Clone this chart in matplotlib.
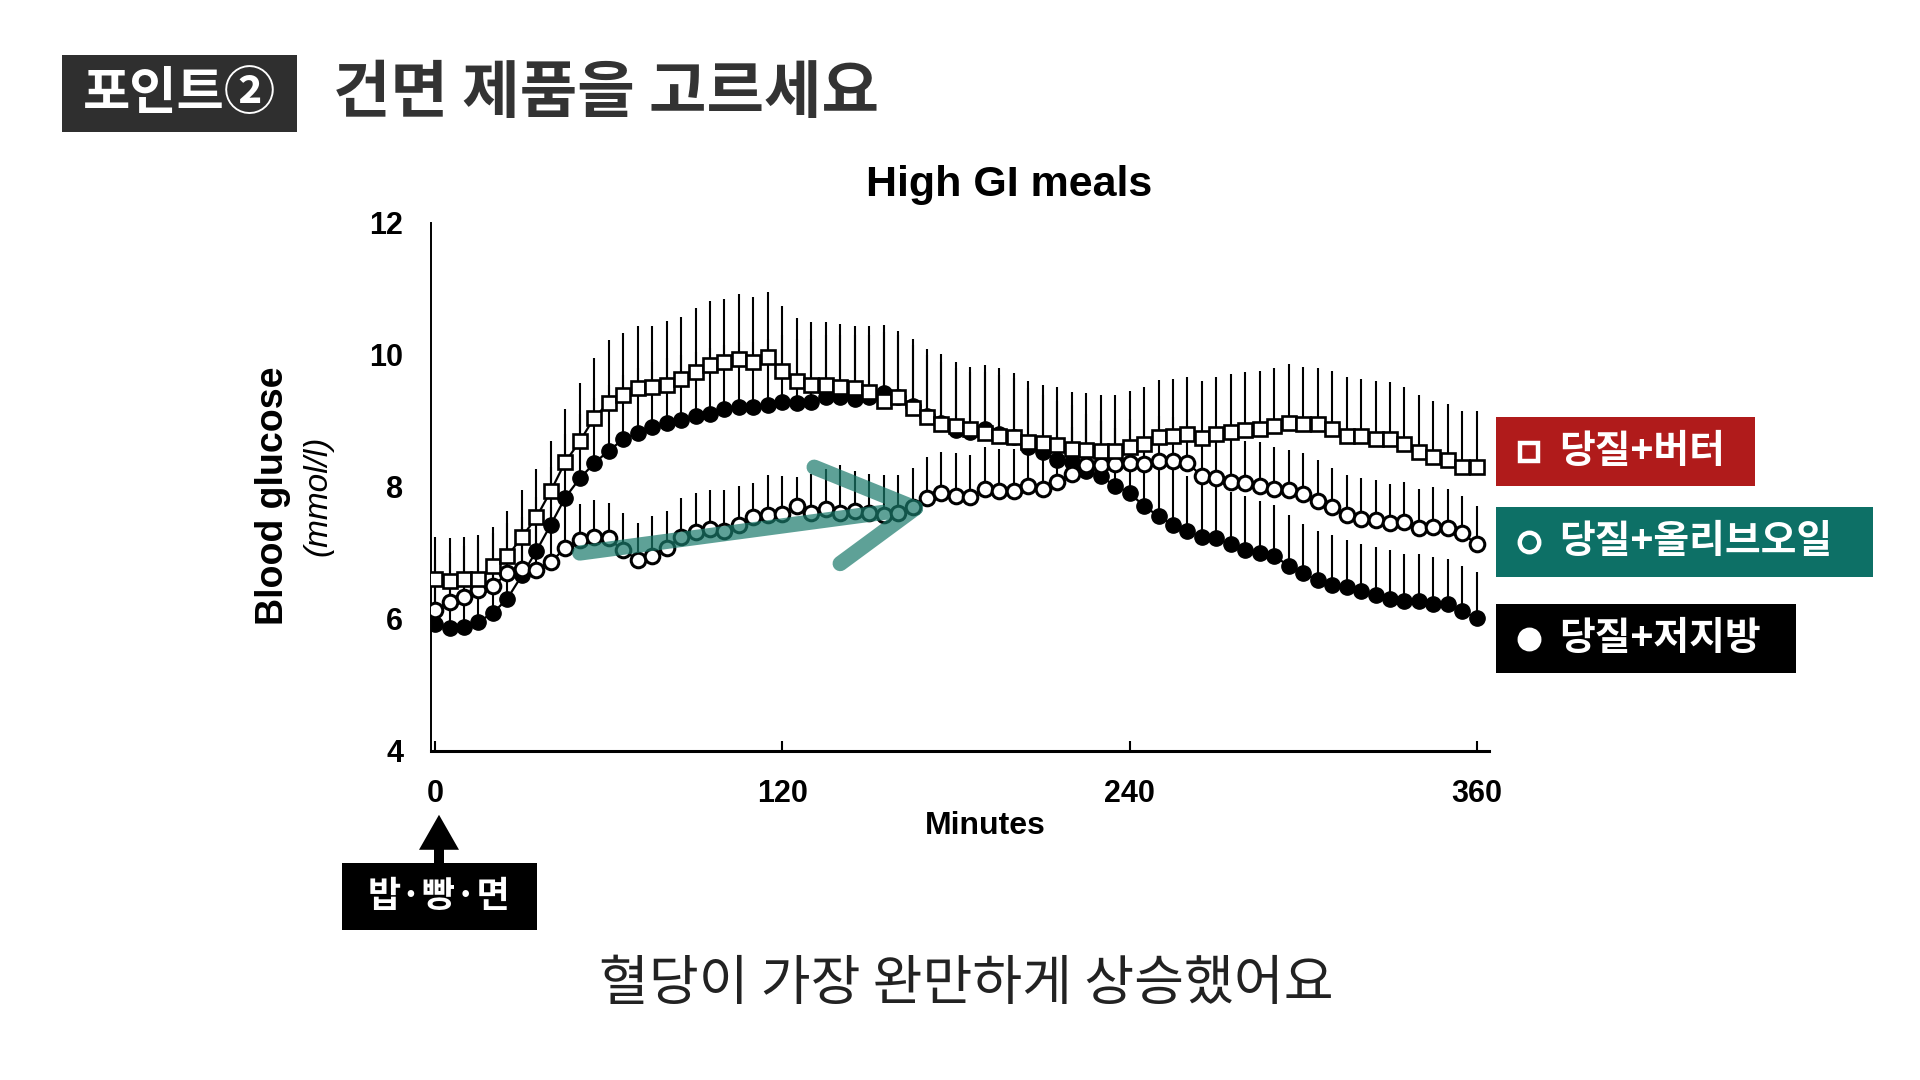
import matplotlib
matplotlib.use('Agg')
import matplotlib.pyplot as plt
from matplotlib.patches import Rectangle
from matplotlib.lines import Line2D
import numpy as np

# ---------------- data ----------------
minutes = [0, 5, 10, 15, 20, 25, 30, 35, 40, 45, 50, 55, 60, 65, 70, 75, 80, 85, 90, 95,
           100, 105, 110, 115, 120, 125, 130, 135, 140, 145, 150, 155, 160, 165, 170, 175,
           180, 185, 190, 195, 200, 205, 210, 215, 220, 225, 230, 235, 240, 245, 250, 255,
           260, 265, 270, 275, 280, 285, 290, 295, 300, 305, 310, 315, 320, 325, 330, 335,
           340, 345, 350, 355, 360]

# sugar + butter (open squares)
butter = [6.60, 6.58, 6.60, 6.60, 6.81, 6.95, 7.24, 7.54, 7.94, 8.38, 8.69, 9.05, 9.28, 9.39,
          9.50, 9.52, 9.55, 9.64, 9.75, 9.85, 9.89, 9.94, 9.90, 9.97, 9.76,
          9.60, 9.54, 9.54, 9.52, 9.50, 9.44, 9.31, 9.36, 9.20, 9.06, 8.96, 8.92, 8.88, 8.82,
          8.77, 8.76, 8.68, 8.66, 8.63, 8.58, 8.56, 8.55, 8.54,
          8.61, 8.65, 8.76, 8.77, 8.81, 8.74, 8.80, 8.83, 8.87, 8.88, 8.92, 8.97, 8.96, 8.95,
          8.88, 8.78, 8.77, 8.73, 8.72, 8.65, 8.53, 8.45, 8.41, 8.31, 8.31]
butter_top = [7.25, 7.22, 7.25, 7.27, 7.40, 7.64, 7.95, 8.28, 8.70, 9.18, 9.57, 9.96, 10.22, 10.33,
              10.44, 10.44, 10.51, 10.58, 10.71, 10.82, 10.85, 10.92, 10.88, 10.96, 10.75,
              10.56, 10.50, 10.50, 10.47, 10.44, 10.44, 10.46, 10.37, 10.24, 10.09, 10.01, 9.89,
              9.82, 9.85, 9.80, 9.72, 9.61, 9.55, 9.52, 9.44, 9.42, 9.40, 9.39,
              9.45, 9.51, 9.62, 9.64, 9.66, 9.61, 9.66, 9.71, 9.74, 9.76, 9.80, 9.86, 9.82, 9.81,
              9.76, 9.66, 9.64, 9.61, 9.59, 9.52, 9.39, 9.31, 9.26, 9.15, 9.15]

# sugar + olive oil (open circles)
olive = [6.14, 6.26, 6.34, 6.44, 6.50, 6.69, 6.76, 6.74, 6.86, 7.08, 7.19, 7.25, 7.22, 7.04,
         6.90, 6.96, 7.08, 7.24, 7.32, 7.37, 7.34, 7.43, 7.54, 7.57, 7.59,
         7.71, 7.61, 7.67, 7.61, 7.64, 7.60, 7.57, 7.60, 7.70, 7.84, 7.91, 7.87, 7.85, 7.97,
         7.94, 7.94, 8.01, 7.97, 8.07, 8.20, 8.33, 8.34, 8.35,
         8.37, 8.35, 8.40, 8.40, 8.36, 8.17, 8.13, 8.07, 8.06, 8.01, 7.97, 7.95, 7.89, 7.79,
         7.69, 7.57, 7.52, 7.50, 7.45, 7.47, 7.38, 7.39, 7.38, 7.30, 7.13]
olive_top = [6.90, 7.00, 7.10, 7.20, 7.30, 7.45, 7.55, 7.60, 7.70, 7.85,
             7.74, 7.80, 7.76, 7.60, 7.45, 7.56, 7.64, 7.84, 7.91, 7.95, 7.95, 8.01, 8.06, 8.18, 8.16,
             8.15, 8.20, 8.28, 8.33, 8.25, 8.20, 8.18, 8.18, 8.29, 8.45, 8.53, 8.51, 8.48, 8.60,
             8.58, 8.58, 8.70, 8.68, 8.78, 8.91, 9.01, 9.02, 9.02,
             9.03, 9.02, 9.07, 9.06, 9.02, 8.83, 8.78, 8.73, 8.70, 8.68, 8.60, 8.56, 8.51, 8.41,
             8.29, 8.18, 8.13, 8.10, 8.05, 8.07, 7.97, 8.00, 7.97, 7.87, 7.71]

# sugar + low fat (filled circles)
lowfat = [5.92, 5.86, 5.88, 5.96, 6.09, 6.31, 6.66, 7.03, 7.43, 7.84, 8.13, 8.36, 8.55, 8.72,
          8.82, 8.91, 8.97, 9.02, 9.07, 9.11, 9.18, 9.21, 9.21, 9.25, 9.29,
          9.27, 9.29, 9.36, 9.36, 9.34, 9.36, 9.42, 9.36, 9.23, 9.08, 8.97, 8.86, 8.83, 8.88,
          8.81, 8.76, 8.61, 8.53, 8.41, 8.38, 8.24, 8.16, 8.02,
          7.91, 7.71, 7.56, 7.43, 7.33, 7.24, 7.22, 7.13, 7.05, 7.00, 6.95, 6.81, 6.69, 6.59,
          6.51, 6.48, 6.43, 6.36, 6.31, 6.28, 6.28, 6.22, 6.22, 6.12, 6.01]
lowfat_top = [6.50, 6.45, 6.50, 6.60, 6.75, 7.00, 7.40, 7.85, 8.30, 8.80, 9.10, 9.35, 9.55, 9.70,
              9.80, 9.90, 9.95, 10.00, 10.05, 10.10, 10.15, 10.20, 10.20, 10.25, 10.30,
              10.25, 10.25, 10.30, 10.30, 10.30, 10.30, 10.35, 10.30, 10.15, 10.00, 9.90, 9.80,
              9.75, 9.75, 9.70, 9.65, 9.50, 9.40, 9.30, 9.25, 9.10, 9.00, 8.90, 8.75, 8.55, 8.40,
              8.30, 8.17, 8.12, 8.00, 7.92, 7.86, 7.79, 7.72, 7.58, 7.44, 7.33, 7.27, 7.20, 7.14,
              7.09, 7.05, 6.99, 6.99, 6.94, 6.91, 6.81, 6.71]

# hand-drawn green arrow (minutes, mmol/l)
arrow_x = [50, 166, np.nan, 131, 166, np.nan, 140, 166]
arrow_y = [7.00, 7.68, np.nan, 8.30, 7.68, np.nan, 6.84, 7.68]

y_ticks = [4, 6, 8, 10, 12]
x_ticks = [0, 120, 240, 360]
x_tick_labels = ["0", "120", "240", "360"]
chart_title = "High GI meals"
x_label = "Minutes"
y_label = "Blood glucose"
y_unit = "(mmol/l)"
header_tag = "포인트②"
header_text = "건면 제품을 고르세요"
legend_labels = ["당질+버터", "당질+올리브오일", "당질+저지방"]
legend_markers = ["s", "o", "o"]
legend_fill = ["none", "none", "white"]
legend_colors = ["#b01b1b", "#0d7066", "#000000"]
meal_label = "밥·빵·면"
caption = "혈당이 가장 완만하게 상승했어요"

# ---------------- figure ----------------
W, H = 1920, 1080
fig = plt.figure(figsize=(19.2, 10.8), dpi=100)
fig.patch.set_facecolor('white')

def fx(px):
    return px / W

def fy(py):
    return 1 - py / H

KR = ['Noto Sans CJK KR', 'DejaVu Sans']
LAT = ['Liberation Sans', 'DejaVu Sans']

ax = fig.add_axes([fx(431), fy(751), (1489 - 431) / W, (751 - 223) / H])
ax.set_xlim(-1.4, 364.2)
ax.set_ylim(4, 12)

# error bars (upward only)
ax.vlines(minutes, lowfat, lowfat_top, color='black', lw=1.5, zorder=2)
ax.vlines(minutes, olive, olive_top, color='black', lw=1.5, zorder=2)
ax.vlines(minutes, butter, butter_top, color='black', lw=1.5, zorder=2)

ax.plot(minutes, lowfat, '-', color='black', lw=1.6, marker='o', ms=11,
        mfc='black', mec='black', zorder=3)
ax.plot(minutes, olive, '-', color='black', lw=1.6, marker='o', ms=10.5,
        mfc='white', mec='black', mew=2.2, zorder=4)
ax.plot(minutes, butter, '-', color='black', lw=1.6, marker='s', ms=10.5,
        mfc='white', mec='black', mew=1.9, zorder=5)

ax.plot(arrow_x, arrow_y, color='#1a7a6b', lw=11, alpha=0.7,
        solid_capstyle='round', solid_joinstyle='round', zorder=6)

for s in ['top', 'right']:
    ax.spines[s].set_visible(False)
ax.spines['left'].set_linewidth(1.4)
ax.spines['bottom'].set_linewidth(2.2)

ax.set_yticks(y_ticks)
ax.set_yticklabels([str(v) for v in y_ticks], family=LAT, fontweight='bold', fontsize=22)
ax.tick_params(axis='y', length=0, pad=20)
ax.set_xticks(x_ticks)
ax.set_xticklabels(x_tick_labels, family=LAT, fontweight='bold', fontsize=22)
ax.tick_params(axis='x', direction='in', length=7, width=1.5, pad=20)

fig.text(fx(1009), fy(185), chart_title, family=LAT, fontweight='bold', fontsize=31,
         ha='center', va='center')
fig.text(fx(985), fy(826), x_label, family=LAT, fontweight='bold', fontsize=23,
         ha='center', va='center')
fig.text(fx(273), fy(496), y_label, family=LAT, fontweight='bold', fontsize=27,
         rotation=90, ha='center', va='center')
fig.text(fx(318), fy(496), y_unit, family=LAT, style='italic', fontsize=24,
         rotation=90, ha='center', va='center')

# header
fig.add_artist(Rectangle((fx(62), fy(132)), (297 - 62) / W, (132 - 55) / H,
                         transform=fig.transFigure, facecolor='#2f2f2f', edgecolor='none'))
fig.text(fx(179), fy(94), header_tag, family=KR, fontweight='black', fontsize=37,
         color='white', ha='center', va='center')
fig.text(fx(333), fy(94), header_text, family=KR, fontweight='black', fontsize=45,
         color='#333333', ha='left', va='center')

# legend boxes
boxes = [(1496, 417, 1755, 486), (1496, 507, 1873, 577), (1496, 604, 1796, 673)]
for (x0, y0, x1, y1), lab, mk, mf, col in zip(boxes, legend_labels, legend_markers,
                                               legend_fill, legend_colors):
    fig.add_artist(Rectangle((fx(x0), fy(y1)), (x1 - x0) / W, (y1 - y0) / H,
                             transform=fig.transFigure, facecolor=col, edgecolor='none'))
    yc = (y0 + y1) / 2
    fig.add_artist(Line2D([fx(1529)], [fy(yc)], transform=fig.transFigure, marker=mk,
                          ms=13 if mk == 's' else 14, mfc=mf, mec='white', mew=3.2,
                          linestyle='none'))
    fig.text(fx(1559), fy(yc), lab, family=KR, fontweight='bold', fontsize=28,
             color='white', ha='left', va='center')

# meal box + arrow
fig.add_artist(Rectangle((fx(342), fy(930)), (537 - 342) / W, (930 - 863) / H,
                         transform=fig.transFigure, facecolor='black', edgecolor='none'))
fig.text(fx(439), fy(897), meal_label, family=KR, fontweight='bold', fontsize=26,
         color='white', ha='center', va='center')
fig.add_artist(matplotlib.patches.FancyArrowPatch(
    (fx(439), fy(866)), (fx(439), fy(812)), transform=fig.transFigure,
    arrowstyle='simple,head_width=1.6,head_length=1.4,tail_width=0.4',
    mutation_scale=18, color='black', lw=0))

# caption
fig.text(fx(966), fy(985), caption, family=KR, fontweight='light', fontsize=39,
         color='#222222', ha='center', va='center')

fig.savefig('out.png', dpi=100, facecolor='white')
